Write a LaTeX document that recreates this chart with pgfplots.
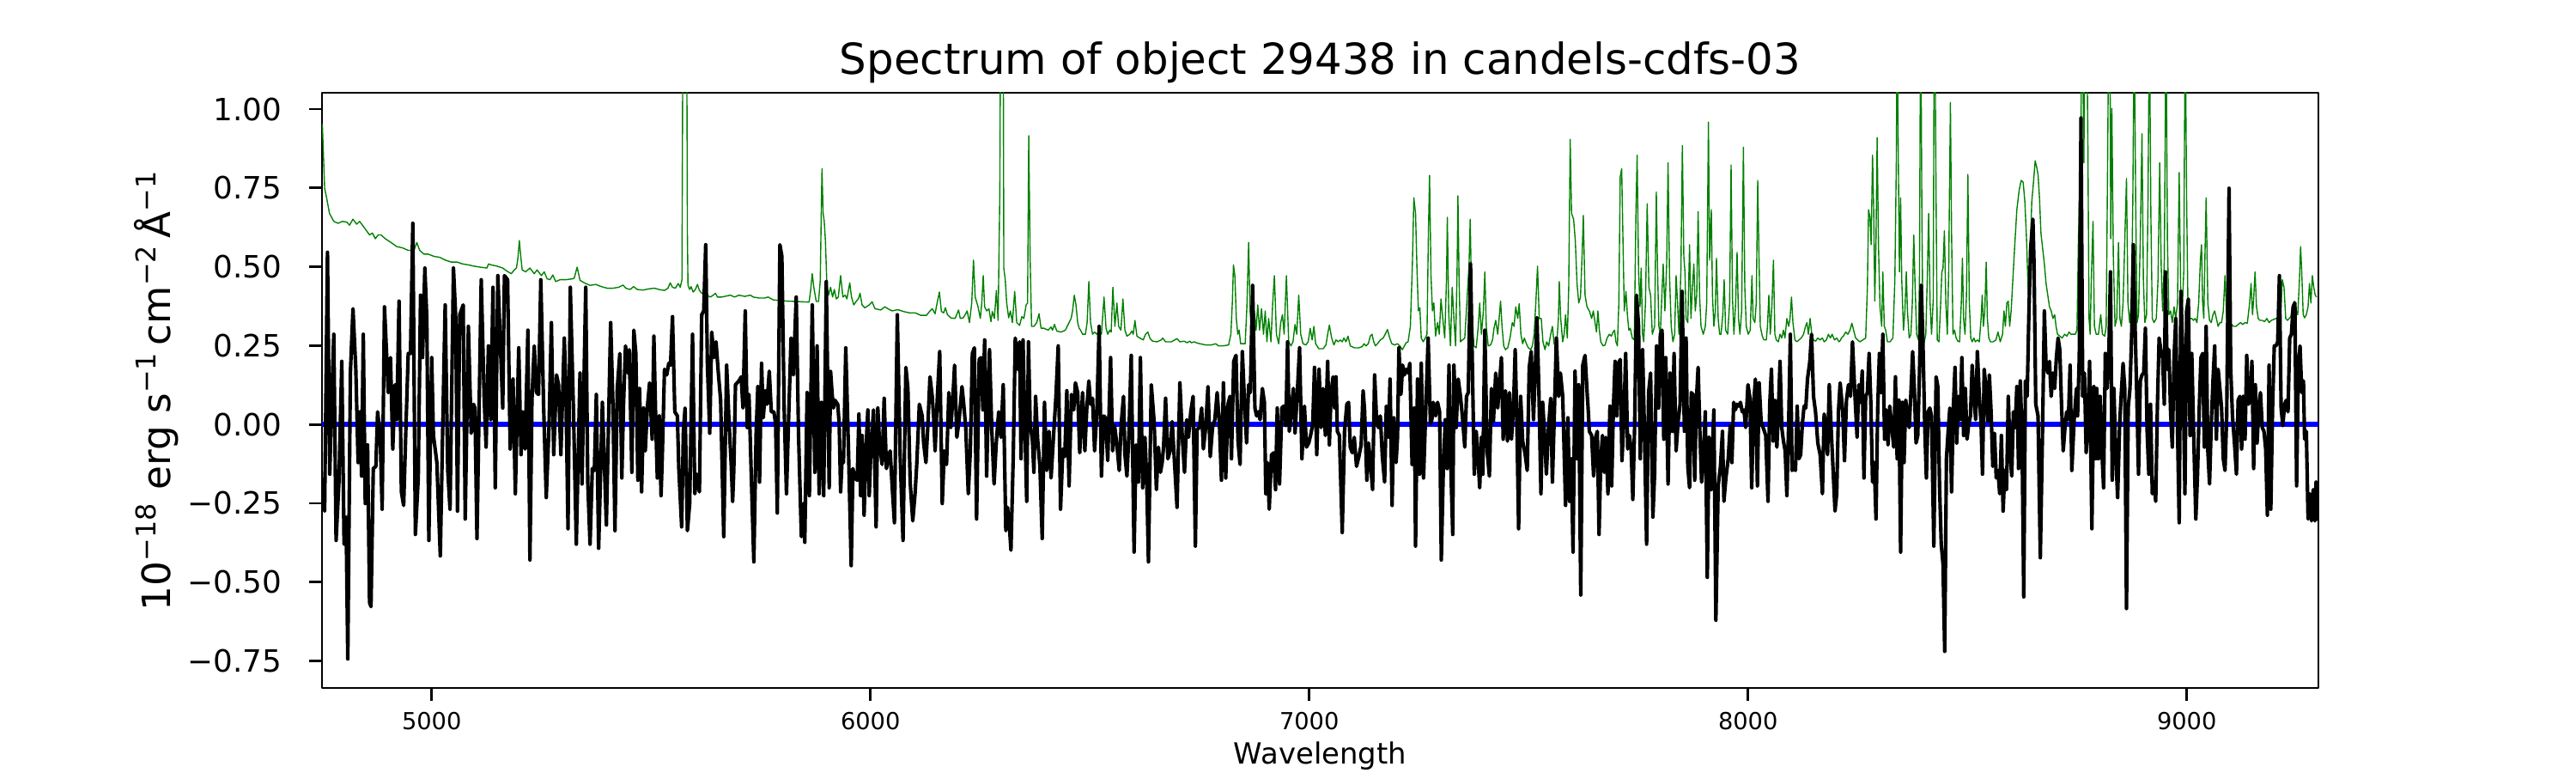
\documentclass[border=0pt]{standalone}
\usepackage{fontspec}
\setmainfont{DejaVu Sans}
\usepackage{pgfplots}
\usepackage{pgfplotstable}
\pgfplotsset{compat=1.18}
\definecolor{mplgreen}{rgb}{0,0.5,0}

\pgfplotstableread[row sep=\\]{x y\\
4750.8 -0.170\\ 4756.0 -0.275\\ 4762.5 0.546\\ 4767.7 -0.158\\ 4771.6 0.052\\ 4776.9 0.286\\ 4782.1 -0.368\\ 4788.6 -0.183\\
4795.1 0.200\\ 4800.3 -0.380\\ 4804.9 -0.294\\ 4808.8 -0.744\\ 4814.7 0.163\\ 4820.6 0.367\\ 4827.1 0.175\\ 4832.3 -0.121\\
4836.9 0.040\\ 4840.2 -0.164\\ 4844.1 0.286\\ 4848.6 -0.251\\ 4853.9 -0.065\\ 4858.4 -0.565\\ 4861.7 -0.578\\ 4866.9 -0.140\\
4872.8 -0.133\\ 4876.7 0.040\\ 4882.6 -0.035\\ 4887.1 -0.269\\ 4892.4 0.373\\ 4897.6 0.212\\ 4900.9 0.101\\ 4906.1 0.212\\
4911.3 -0.078\\ 4916.5 0.126\\ 4920.4 0.015\\ 4925.6 0.391\\ 4930.9 -0.214\\ 4936.1 -0.257\\ 4941.3 -0.010\\ 4946.5 0.225\\
4951.7 0.225\\ 4957.0 0.638\\ 4962.8 -0.349\\ 4969.4 -0.170\\ 4974.6 0.410\\ 4979.2 0.212\\ 4984.4 0.496\\ 4988.9 0.336\\
4993.5 -0.368\\ 5000.0 0.212\\ 5004.0 -0.035\\ 5011.8 -0.121\\ 5019.6 -0.417\\ 5024.8 -0.035\\ 5030.7 0.379\\ 5036.6 -0.146\\
5041.8 -0.269\\ 5049.6 0.496\\ 5054.9 0.336\\ 5058.8 -0.275\\ 5064.0 0.348\\ 5071.8 0.379\\ 5076.4 -0.300\\ 5083.6 0.311\\
5090.1 -0.028\\ 5095.3 0.064\\ 5098.6 0.052\\ 5103.2 -0.362\\ 5112.9 0.459\\ 5119.5 0.089\\ 5124.0 -0.072\\ 5129.3 0.249\\
5134.5 0.015\\ 5139.7 0.435\\ 5144.9 -0.201\\ 5150.8 0.472\\ 5156.7 0.249\\ 5161.9 0.052\\ 5165.8 0.472\\ 5173.0 0.459\\
5178.9 -0.078\\ 5185.4 0.144\\ 5190.6 -0.220\\ 5198.4 0.243\\ 5203.6 -0.096\\ 5207.6 0.040\\ 5212.8 -0.078\\ 5219.3 0.299\\
5223.9 -0.430\\ 5228.5 0.077\\ 5233.7 0.249\\ 5238.9 0.101\\ 5243.5 0.095\\ 5248.7 0.459\\ 5255.2 0.052\\ 5261.1 -0.232\\
5267.6 0.002\\ 5272.8 0.323\\ 5278.1 -0.096\\ 5284.6 0.157\\ 5289.1 0.126\\ 5294.4 -0.096\\ 5302.2 0.274\\ 5305.5 0.138\\
5310.7 -0.331\\ 5315.9 0.435\\
5323.0 0.052\\ 5329.6 -0.380\\ 5338.0 0.163\\ 5342.6 -0.189\\ 5351.1 0.435\\ 5355.7 -0.183\\ 5360.9 -0.380\\ 5366.1 -0.140\\
5370.7 -0.146\\ 5375.2 0.095\\ 5380.5 -0.393\\ 5389.0 0.070\\ 5398.1 -0.319\\ 5407.9 0.323\\ 5413.1 0.064\\ 5417.7 -0.337\\
5422.9 0.114\\ 5428.8 0.225\\ 5433.3 -0.170\\ 5437.2 0.064\\ 5441.8 0.249\\ 5447.0 0.163\\ 5450.3 0.237\\ 5456.2 -0.152\\
5460.7 0.299\\ 5465.3 0.225\\ 5469.9 -0.177\\ 5473.8 0.114\\ 5478.4 -0.214\\ 5482.9 0.052\\ 5486.8 -0.084\\ 5491.4 0.052\\
5496.6 0.132\\ 5502.5 -0.047\\ 5506.4 0.280\\ 5511.0 -0.010\\ 5514.2 -0.170\\ 5518.8 0.027\\ 5522.7 -0.226\\ 5525.3 -0.115\\
5530.6 0.175\\ 5535.8 0.157\\ 5540.3 0.194\\ 5544.3 0.188\\ 5548.8 0.342\\ 5554.1 0.040\\ 5559.9 0.027\\ 5563.2 -0.140\\
5569.7 -0.325\\ 5573.6 -0.022\\ 5577.5 0.052\\ 5582.8 -0.337\\ 5588.0 -0.251\\ 5594.5 0.286\\ 5599.7 -0.220\\ 5604.3 -0.158\\
5610.2 -0.214\\ 5615.4 0.348\\ 5620.0 0.360\\ 5624.5 0.570\\ 5628.4 0.188\\ 5633.7 -0.028\\ 5638.2 0.293\\ 5643.5 0.212\\
5648.0 0.262\\ 5653.3 0.163\\ 5658.5 0.077\\ 5665.6 -0.356\\ 5672.2 0.188\\ 5677.4 0.015\\ 5682.6 -0.127\\ 5685.9 -0.244\\
5688.5 -0.146\\ 5692.4 0.126\\ 5700.2 0.138\\ 5705.4 0.151\\ 5709.4 0.052\\ 5714.6 0.360\\ 5719.2 -0.010\\ 5723.1 0.095\\
5728.3 -0.158\\ 5734.2 -0.436\\ 5739.4 -0.028\\ 5743.3 0.120\\ 5747.2 -0.183\\ 5751.8 0.194\\ 5755.7 0.021\\ 5760.3 0.107\\
5764.2 0.064\\ 5769.4 0.169\\ 5774.0 0.040\\ 5779.9 0.040\\ 5783.8 0.002\\ 5787.7 -0.281\\ 5793.6 0.570\\ 5798.1 0.533\\
5803.3 0.052\\ 5808.6 -0.220\\ 5812.5 -0.028\\ 5819.0 0.274\\ 5824.2 0.157\\ 5830.8 0.404\\ 5836.0 -0.028\\ 5842.5 -0.356\\
5847.1 -0.251\\ 5850.3 -0.374\\ 5855.6 0.101\\ 5860.8 -0.226\\ 5867.3 0.379\\ 5873.2 -0.152\\ 5878.4 0.249\\ 5883.0 -0.220\\
5888.2 0.070\\ 5893.4 -0.226\\
5899.3 0.453\\ 5905.9 -0.201\\ 5909.1 0.169\\ 5912.4 0.101\\ 5915.6 0.052\\ 5918.9 0.077\\ 5922.2 0.070\\ 5925.4 0.064\\
5928.7 0.002\\ 5932.0 -0.214\\ 5935.2 -0.115\\ 5938.5 -0.121\\ 5943.7 0.243\\ 5950.2 -0.096\\ 5956.1 -0.448\\ 5960.0 -0.140\\
5964.6 -0.170\\ 5969.8 -0.177\\ 5973.7 0.033\\ 5977.6 -0.226\\ 5980.9 -0.035\\ 5985.5 -0.288\\ 5989.4 -0.090\\ 5994.0 0.046\\
5997.2 -0.226\\ 6001.1 -0.078\\ 6007.0 0.046\\ 6012.9 -0.325\\ 6016.8 0.052\\ 6020.7 -0.059\\ 6026.6 -0.127\\ 6031.2 0.083\\
6036.4 -0.140\\ 6041.6 -0.102\\ 6044.9 -0.084\\ 6049.4 -0.195\\ 6054.6 -0.312\\ 6061.2 0.348\\ 6067.7 -0.102\\ 6074.2 -0.368\\
6080.7 0.181\\ 6085.3 0.114\\ 6090.5 -0.183\\ 6096.4 -0.306\\ 6101.6 -0.220\\ 6105.5 -0.127\\ 6111.4 0.064\\ 6117.9 0.027\\
6121.2 -0.059\\ 6126.4 -0.121\\ 6131.0 0.002\\ 6135.6 0.151\\ 6140.8 0.089\\ 6144.1 0.021\\ 6147.3 -0.084\\ 6152.5 0.089\\
6157.8 0.231\\ 6163.6 -0.251\\ 6168.2 -0.084\\ 6173.4 -0.127\\ 6178.6 0.101\\ 6183.2 -0.010\\ 6187.8 0.083\\ 6191.7 0.188\\
6196.9 -0.041\\ 6202.1 0.015\\ 6208.6 0.120\\ 6212.6 0.064\\ 6217.1 -0.010\\ 6223.0 -0.220\\ 6227.6 -0.084\\ 6232.2 0.225\\
6236.7 0.243\\ 6241.9 -0.300\\ 6247.8 0.206\\ 6251.7 0.212\\ 6256.3 0.046\\ 6260.2 0.268\\ 6264.8 -0.164\\ 6271.3 0.237\\
6276.5 -0.016\\ 6281.7 -0.189\\ 6287.0 -0.053\\ 6292.2 0.040\\ 6297.4 -0.041\\ 6302.6 0.126\\ 6308.5 -0.337\\ 6312.4 -0.263\\
6317.0 -0.331\\ 6320.2 -0.399\\ 6325.5 -0.096\\ 6330.0 0.274\\ 6335.3 0.175\\ 6339.8 0.262\\ 6343.1 -0.109\\ 6347.7 0.268\\
6351.6 0.015\\ 6356.1 -0.244\\ 6360.1 0.262\\ 6364.0 0.002\\ 6369.2 -0.053\\ 6372.5 -0.152\\ 6376.4 0.089\\ 6381.0 -0.047\\
6386.2 -0.133\\ 6391.4 -0.362\\ 6396.6 0.070\\ 6401.8 -0.146\\ 6407.0 -0.022\\ 6411.6 -0.170\\ 6416.8 -0.047\\ 6422.7 0.089\\
6427.9 0.249\\ 6433.2 -0.269\\ 6438.4 -0.078\\ 6442.9 -0.102\\ 6447.5 0.107\\ 6452.7 -0.195\\ 6458.0 0.095\\ 6463.2 0.046\\
6467.1 0.132\\ 6472.3 0.101\\ 6476.9 -0.090\\
6483.4 0.101\\ 6488.6 -0.084\\ 6493.1 0.052\\ 6497.7 0.138\\ 6501.6 0.064\\ 6506.2 0.083\\ 6510.8 -0.084\\ 6516.0 0.040\\
6521.2 0.311\\ 6526.4 -0.164\\ 6531.6 0.027\\ 6535.6 0.021\\ 6540.8 -0.115\\ 6547.3 0.212\\ 6551.9 -0.084\\ 6556.4 -0.004\\
6561.7 -0.065\\ 6566.9 -0.146\\ 6571.5 0.002\\ 6576.7 0.089\\ 6580.0 -0.096\\ 6584.5 -0.164\\ 6589.1 -0.028\\ 6594.3 0.219\\
6600.8 -0.405\\ 6605.4 -0.065\\ 6610.6 -0.183\\ 6615.2 0.212\\ 6620.4 -0.201\\ 6625.6 -0.041\\ 6629.5 -0.170\\ 6633.5 -0.436\\
6640.0 0.126\\ 6646.5 0.009\\ 6651.7 -0.207\\ 6656.3 -0.072\\ 6660.9 -0.152\\ 6664.8 -0.121\\ 6668.0 -0.072\\ 6672.6 0.083\\
6677.8 -0.109\\ 6683.0 -0.084\\ 6687.6 0.009\\ 6692.2 -0.102\\ 6698.7 -0.263\\ 6705.2 0.132\\ 6710.5 -0.035\\ 6715.7 -0.152\\
6720.9 0.015\\ 6724.8 -0.041\\ 6730.0 0.040\\ 6735.3 0.089\\ 6740.5 -0.386\\ 6744.4 -0.016\\ 6749.6 -0.010\\ 6754.8 0.052\\
6758.7 -0.078\\ 6764.0 -0.010\\ 6769.2 0.120\\ 6774.4 -0.102\\ 6779.6 -0.010\\ 6784.9 0.015\\ 6790.1 0.101\\ 6795.3 0.002\\
6799.9 -0.177\\ 6804.4 0.132\\ 6809.7 -0.170\\ 6814.9 0.064\\ 6819.4 0.089\\ 6822.7 -0.109\\ 6827.9 0.200\\ 6833.1 0.219\\
6837.7 -0.053\\ 6842.3 -0.127\\ 6847.5 0.231\\ 6852.7 0.064\\ 6857.3 -0.059\\ 6861.9 0.126\\ 6865.8 0.101\\ 6871.0 0.441\\
6876.2 0.052\\ 6880.1 0.027\\ 6884.0 0.040\\ 6888.0 0.015\\ 6893.2 0.114\\ 6897.8 0.070\\ 6901.0 -0.220\\ 6904.9 -0.121\\
6908.8 -0.269\\ 6914.1 -0.096\\ 6919.3 -0.090\\ 6923.2 -0.207\\ 6927.1 0.052\\ 6932.3 -0.189\\ 6937.6 0.052\\ 6941.5 0.058\\
6946.7 -0.004\\ 6950.6 0.262\\ 6954.5 -0.022\\ 6959.8 0.052\\ 6963.7 0.114\\ 6967.6 -0.028\\ 6972.8 0.101\\ 6978.0 0.243\\
6983.3 -0.109\\ 6989.1 0.058\\ 6993.7 -0.072\\ 6998.9 -0.059\\ 7004.1 -0.028\\ 7008.0 0.002\\ 7012.0 0.181\\ 7017.2 -0.096\\
7022.4 0.175\\ 7027.0 -0.010\\ 7031.5 0.114\\ 7036.8 -0.035\\ 7042.0 0.200\\ 7045.9 -0.065\\ 7049.8 0.101\\ 7054.4 0.151\\
7057.6 0.052\\ 7060.9 0.151\\ 7064.1 -0.022\\ 7068.7 -0.035\\ 7075.2 -0.343\\ 7080.4 -0.022\\ 7085.7 0.064\\ 7089.6 0.070\\
7093.5 -0.072\\ 7098.0 -0.090\\ 7102.6 -0.041\\ 7107.8 -0.133\\ 7113.1 -0.102\\ 7118.3 -0.065\\ 7122.8 0.107\\ 7126.1 0.046\\
7131.3 -0.177\\ 7135.2 -0.059\\ 7139.8 -0.127\\ 7144.4 -0.207\\ 7149.0 0.157\\ 7153.5 0.015\\ 7157.4 -0.010\\ 7162.0 0.027\\
7166.6 -0.102\\ 7171.8 -0.183\\ 7175.7 0.058\\ 7180.3 -0.041\\ 7184.2 0.144\\ 7188.8 -0.257\\ 7192.7 0.021\\ 7197.9 -0.121\\
7201.2 -0.041\\ 7204.4 0.243\\ 7209.0 0.095\\ 7212.9 0.188\\ 7216.8 0.157\\ 7220.7 0.175\\ 7225.3 0.163\\ 7229.2 0.194\\
7234.4 -0.127\\ 7239.7 0.052\\ 7242.3 -0.386\\ 7246.8 0.144\\ 7251.4 -0.158\\ 7255.3 0.194\\ 7260.5 -0.170\\ 7265.1 0.027\\
7271.0 0.274\\ 7276.2 0.002\\ 7279.5 0.015\\ 7282.7 0.070\\ 7287.9 0.027\\ 7292.5 0.070\\ 7297.1 0.040\\ 7301.0 -0.430\\
7305.6 -0.140\\ 7310.1 0.015\\ 7314.1 -0.140\\ 7318.6 0.188\\ 7323.2 -0.158\\ 7327.1 -0.349\\ 7329.7 0.188\\ 7334.9 -0.010\\
7339.5 0.144\\ 7344.7 0.089\\ 7349.3 0.021\\ 7354.5 -0.072\\ 7358.4 0.089\\ 7362.4 0.101\\ 7367.6 0.509\\ 7371.5 0.212\\
7376.1 -0.158\\ 7380.6 -0.022\\ 7384.5 -0.102\\ 7388.5 -0.201\\ 7392.4 -0.041\\ 7395.6 -0.158\\ 7400.2 0.299\\ 7405.4 -0.084\\
7410.6 -0.164\\ 7415.2 0.114\\ 7419.8 0.009\\ 7425.0 0.163\\ 7429.6 0.052\\ 7434.1 0.138\\ 7438.0 0.212\\ 7442.0 -0.047\\
7447.2 0.107\\ 7451.8 -0.053\\ 7456.3 0.101\\ 7460.9 -0.047\\ 7465.5 0.052\\ 7469.4 0.237\\ 7473.3 0.002\\ 7477.2 -0.331\\
7481.8 0.089\\ 7486.4 -0.053\\ 7491.6 -0.090\\ 7496.8 -0.146\\ 7501.4 0.181\\ 7505.9 0.231\\ 7511.1 0.015\\ 7515.1 0.169\\
7519.0 0.338\\ 7523.5 0.101\\ 7528.1 -0.220\\ 7532.0 0.070\\ 7535.9 -0.022\\ 7540.5 -0.158\\ 7545.1 -0.016\\ 7550.3 0.083\\
7554.2 -0.183\\ 7558.1 0.009\\ 7563.3 0.274\\ 7568.6 0.089\\ 7572.5 0.163\\ 7577.7 0.089\\ 7584.2 -0.257\\ 7589.5 0.021\\
7593.4 -0.244\\ 7597.3 -0.109\\ 7601.2 -0.405\\ 7605.8 0.169\\ 7610.3 -0.109\\ 7614.2 0.126\\ 7618.8 -0.541\\ 7623.4 0.188\\
7628.6 0.219\\ 7633.8 0.089\\
7635.1 0.064\\ 7638.4 -0.022\\ 7643.6 -0.035\\ 7648.1 -0.164\\ 7652.7 -0.041\\ 7656.6 -0.022\\ 7660.5 -0.349\\ 7664.5 -0.109\\
7668.4 -0.035\\ 7672.3 -0.152\\ 7676.2 -0.041\\ 7680.8 -0.220\\ 7685.3 0.058\\ 7689.3 -0.195\\ 7693.2 0.052\\ 7697.1 0.200\\
7701.0 0.027\\ 7704.9 0.194\\ 7708.8 0.206\\ 7712.7 -0.115\\ 7716.7 0.002\\ 7721.2 0.225\\ 7725.8 -0.078\\ 7729.7 -0.035\\
7733.6 -0.078\\ 7737.5 -0.238\\ 7741.5 -0.010\\ 7746.0 0.410\\ 7750.6 0.311\\ 7754.5 -0.109\\ 7759.7 0.237\\ 7763.7 -0.004\\
7768.9 -0.380\\ 7773.4 0.101\\ 7778.0 0.163\\ 7783.2 -0.294\\ 7787.1 -0.158\\ 7791.7 0.249\\ 7796.3 0.052\\ 7800.2 0.286\\
7804.1 0.299\\ 7808.0 -0.047\\ 7812.6 0.212\\ 7817.8 -0.189\\ 7822.4 0.163\\ 7827.6 -0.022\\ 7831.5 0.225\\ 7836.1 -0.084\\
7840.7 0.009\\ 7845.2 0.064\\ 7849.8 0.422\\ 7855.0 -0.022\\ 7858.9 0.274\\ 7862.8 -0.133\\ 7866.8 -0.201\\ 7870.7 0.101\\
7874.6 0.095\\ 7878.5 -0.177\\ 7882.4 0.077\\ 7886.3 0.181\\ 7890.3 -0.022\\ 7894.2 -0.183\\ 7898.1 -0.109\\ 7902.7 0.040\\
7907.2 -0.485\\ 7911.1 -0.041\\ 7915.7 -0.207\\ 7922.2 0.046\\ 7926.8 -0.621\\ 7932.0 -0.195\\ 7937.2 -0.133\\ 7941.8 -0.022\\
7945.1 -0.244\\ 7949.6 -0.170\\ 7954.9 -0.109\\ 7959.4 -0.004\\ 7963.3 -0.121\\ 7967.3 0.070\\ 7971.2 0.046\\ 7975.1 0.064\\
7979.0 0.058\\ 7982.9 0.070\\ 7986.8 0.040\\ 7990.8 0.046\\ 7994.7 -0.010\\ 7999.9 0.126\\ 8004.5 0.083\\ 8008.4 -0.201\\
8012.9 0.064\\ 8016.9 0.144\\ 8021.4 -0.195\\ 8025.3 0.132\\ 8029.9 0.009\\ 8034.5 -0.010\\ 8040.4 -0.035\\ 8045.6 -0.244\\
8049.5 0.064\\ 8053.4 0.175\\ 8057.3 -0.053\\ 8061.2 0.077\\ 8065.8 -0.072\\ 8069.1 0.040\\ 8073.0 0.200\\ 8076.9 -0.010\\
8080.8 -0.053\\ 8084.7 -0.084\\ 8088.6 -0.226\\ 8092.6 0.002\\ 8096.5 0.286\\ 8100.4 -0.146\\ 8105.0 -0.140\\ 8108.2 -0.146\\
8112.1 0.058\\ 8116.1 -0.109\\ 8120.0 -0.096\\ 8123.9 0.002\\ 8127.8 0.058\\ 8131.7 0.052\\ 8135.6 0.144\\ 8140.9 0.200\\
8144.8 0.286\\ 8149.3 0.089\\ 8153.9 0.040\\ 8159.1 -0.059\\ 8164.4 -0.096\\ 8169.6 -0.220\\ 8173.5 0.033\\ 8177.4 -0.004\\
8181.3 -0.096\\ 8185.2 0.126\\ 8189.8 -0.022\\ 8194.4 -0.158\\ 8198.3 -0.275\\ 8202.2 -0.220\\ 8206.1 0.040\\ 8210.0 0.132\\
8216.0 0.040\\ 8219.9 -0.115\\ 8224.4 0.077\\ 8229.0 0.126\\ 8233.6 0.089\\ 8238.1 0.262\\ 8243.4 0.101\\ 8248.6 -0.041\\
8252.5 0.126\\ 8256.4 0.070\\ 8260.3 0.169\\ 8264.2 -0.170\\ 8268.2 0.089\\ 8272.1 0.101\\ 8276.0 0.225\\ 8279.9 0.070\\
8283.8 -0.183\\ 8287.7 -0.121\\ 8291.7 -0.300\\ 8295.6 0.052\\ 8299.5 0.225\\ 8303.4 0.101\\ 8307.3 0.286\\ 8311.2 -0.047\\
8315.1 0.046\\ 8319.1 -0.065\\ 8323.0 0.058\\ 8328.2 -0.016\\ 8332.1 -0.072\\ 8336.0 0.151\\ 8339.9 -0.109\\ 8343.9 0.077\\
8347.8 -0.405\\ 8351.7 0.070\\ 8355.6 -0.121\\ 8359.5 0.077\\ 8363.4 0.027\\ 8367.4 -0.010\\ 8371.3 0.101\\ 8375.2 0.231\\
8379.1 0.114\\ 8383.0 -0.059\\ 8386.9 -0.035\\ 8390.8 0.163\\ 8394.8 0.441\\ 8398.7 0.262\\ 8402.6 0.002\\ 8406.5 -0.170\\
8410.4 0.040\\ 8414.3 0.052\\ 8418.3 0.027\\ 8423.5 -0.386\\ 8428.7 0.151\\ 8432.6 0.120\\ 8436.5 -0.195\\ 8440.4 -0.380\\
8444.4 -0.442\\ 8448.3 -0.720\\ 8452.2 -0.109\\ 8456.1 -0.022\\ 8460.0 0.052\\ 8463.9 -0.214\\ 8467.9 0.052\\ 8471.8 0.181\\
8475.7 -0.059\\ 8479.6 0.089\\ 8483.5 0.015\\ 8487.4 0.212\\ 8491.3 -0.035\\ 8495.3 0.114\\ 8499.2 -0.047\\ 8503.1 0.002\\
8507.0 0.027\\ 8510.9 0.188\\ 8514.8 0.089\\ 8518.8 0.015\\ 8522.7 0.231\\ 8527.2 0.089\\ 8531.2 0.002\\ 8534.4 -0.158\\
8538.3 0.175\\ 8542.2 0.114\\ 8546.2 0.009\\ 8550.1 0.157\\ 8554.0 0.040\\ 8557.9 -0.133\\ 8561.8 -0.028\\ 8565.7 -0.170\\
8569.7 -0.146\\ 8573.6 -0.220\\ 8577.5 -0.035\\ 8581.4 -0.275\\ 8585.3 -0.146\\ 8589.2 -0.207\\ 8593.2 0.089\\ 8597.1 -0.084\\
8601.0 -0.164\\ 8604.9 0.040\\ 8608.8 -0.010\\ 8612.7 0.120\\ 8616.6 -0.140\\ 8620.6 0.138\\ 8624.5 -0.035\\ 8628.4 -0.547\\
8632.3 0.138\\ 8636.2 0.089\\ 8640.1 0.348\\ 8644.1 0.558\\ 8649.3 0.651\\ 8651.9 0.509\\ 8655.8 0.064\\ 8661.0 0.027\\
8666.2 -0.423\\ 8671.5 0.002\\ 8675.4 0.360\\ 8679.3 0.188\\ 8683.2 0.163\\ 8687.1 0.200\\ 8691.0 0.089\\ 8694.9 0.163\\
8698.9 0.114\\ 8702.8 0.212\\ 8706.7 0.274\\ 8710.6 0.237\\ 8714.5 0.064\\ 8718.4 -0.084\\ 8722.4 -0.010\\ 8726.3 0.040\\
8730.2 0.015\\ 8734.1 0.188\\ 8738.0 -0.146\\ 8743.3 0.015\\ 8748.5 0.114\\ 8751.1 0.027\\ 8755.0 0.212\\ 8758.9 0.972\\
8762.8 0.089\\ 8766.8 0.163\\ 8770.7 -0.090\\ 8774.6 -0.010\\ 8778.5 0.200\\ 8783.7 -0.331\\
8788.2 0.120\\ 8792.1 -0.109\\ 8794.8 0.114\\ 8798.7 -0.109\\ 8802.6 0.089\\ 8806.5 -0.084\\ 8810.4 -0.201\\ 8814.3 0.225\\
8818.3 0.114\\ 8822.2 0.212\\ 8826.1 0.484\\ 8830.0 -0.177\\ 8833.9 0.114\\ 8837.8 -0.084\\ 8842.4 -0.232\\ 8847.0 0.002\\
8850.9 0.101\\ 8854.8 0.194\\ 8858.7 0.114\\ 8862.6 -0.584\\ 8866.5 0.052\\ 8870.5 0.114\\ 8874.4 0.286\\ 8878.3 0.570\\
8882.2 0.311\\ 8886.1 0.089\\ 8890.0 -0.158\\ 8894.0 0.138\\ 8897.9 0.157\\ 8901.8 0.163\\ 8905.7 0.305\\ 8909.6 -0.022\\
8913.5 -0.158\\ 8917.4 0.064\\ 8921.4 -0.220\\ 8925.3 -0.183\\ 8929.2 -0.244\\ 8933.1 0.064\\ 8937.0 0.274\\ 8940.9 0.237\\
8944.9 0.212\\ 8948.8 0.064\\ 8951.4 0.484\\ 8955.3 0.175\\ 8959.2 0.237\\ 8963.1 0.040\\ 8967.0 -0.072\\ 8971.0 0.212\\
8974.9 0.336\\ 8978.8 -0.010\\ 8982.7 -0.312\\ 8986.6 0.422\\ 8990.5 0.237\\ 8995.8 -0.220\\ 8999.7 0.360\\ 9003.6 0.398\\
9007.5 -0.035\\ 9011.4 0.225\\ 9015.3 -0.010\\ 9020.6 -0.300\\ 9024.5 -0.158\\ 9028.4 0.052\\ 9032.3 0.212\\ 9036.2 0.225\\
9040.1 -0.072\\ 9044.1 0.311\\ 9048.0 -0.084\\ 9051.9 -0.189\\ 9055.8 0.002\\ 9059.7 0.138\\ 9063.6 0.249\\ 9067.5 -0.047\\
9071.5 0.175\\ 9075.4 0.114\\ 9079.3 0.052\\ 9083.2 -0.109\\ 9087.1 -0.146\\ 9091.0 0.027\\ 9096.3 0.749\\ 9100.2 0.175\\
9104.1 0.027\\ 9108.7 -0.059\\ 9113.2 -0.158\\ 9117.1 0.077\\ 9121.1 0.089\\ 9125.0 -0.078\\ 9128.9 0.089\\ 9132.8 -0.047\\
9136.7 0.219\\ 9140.6 0.064\\ 9144.6 0.077\\ 9148.5 0.200\\ 9152.4 -0.140\\ 9156.3 0.126\\ 9160.2 -0.059\\ 9164.1 0.052\\
9168.0 0.101\\ 9172.0 -0.010\\ 9175.9 -0.022\\ 9179.8 -0.078\\ 9183.7 -0.288\\ 9187.6 0.188\\ 9191.5 -0.269\\ 9195.5 0.052\\
9199.4 0.249\\ 9203.3 0.249\\ 9207.2 0.262\\ 9211.1 0.472\\ 9215.0 0.052\\ 9218.9 -0.004\\ 9222.9 0.064\\ 9226.8 0.077\\
9230.7 0.040\\ 9234.6 0.274\\ 9238.5 0.286\\ 9242.4 0.373\\ 9246.4 0.385\\ 9250.3 -0.195\\ 9254.2 0.175\\ 9258.1 0.249\\
9262.0 0.101\\ 9265.9 0.138\\ 9268.5 -0.047\\ 9272.5 -0.022\\ 9276.4 -0.300\\ 9280.3 -0.220\\ 9284.2 -0.306\\ 9288.1 -0.207\\
9292.0 -0.306\\ 9294.6 -0.183\\ 9297.9 -0.306\\
}\fluxdata

\pgfplotstableread[row sep=\\]{x y\\
4750.8 0.953\\ 4756.0 0.749\\ 4760.5 0.719\\ 4767.1 0.669\\ 4776.9 0.644\\ 4786.6 0.638\\ 4796.4 0.644\\ 4806.2 0.642\\
4812.7 0.632\\ 4820.6 0.651\\ 4829.1 0.635\\ 4835.6 0.644\\ 4845.4 0.626\\ 4858.4 0.601\\ 4865.0 0.607\\ 4871.5 0.589\\
4878.0 0.601\\ 4884.5 0.601\\ 4894.3 0.589\\ 4907.4 0.577\\ 4920.4 0.564\\ 4933.5 0.560\\ 4946.5 0.552\\ 4959.6 0.552\\
4966.1 0.577\\ 4972.6 0.552\\ 4982.4 0.540\\ 4992.2 0.540\\ 5005.3 0.533\\ 5018.3 0.530\\ 5031.4 0.521\\ 5044.4 0.515\\
5057.5 0.515\\ 5070.5 0.509\\ 5083.6 0.506\\ 5096.6 0.502\\ 5109.7 0.499\\ 5126.0 0.496\\ 5129.3 0.509\\ 5135.8 0.506\\
5148.8 0.502\\ 5161.9 0.496\\ 5171.7 0.486\\ 5181.5 0.478\\ 5188.0 0.490\\ 5193.2 0.496\\ 5196.5 0.527\\ 5199.7 0.583\\
5203.0 0.533\\ 5206.3 0.490\\ 5214.1 0.484\\ 5223.9 0.496\\ 5233.7 0.478\\ 5240.2 0.490\\ 5250.0 0.472\\ 5256.5 0.484\\
5263.0 0.462\\ 5269.6 0.459\\ 5276.1 0.474\\ 5282.6 0.453\\ 5292.4 0.459\\ 5305.5 0.459\\ 5321.8 0.462\\
5325.0 0.465\\ 5331.5 0.499\\ 5338.0 0.457\\ 5347.8 0.449\\ 5360.9 0.441\\ 5373.9 0.444\\ 5387.0 0.437\\ 5400.0 0.432\\
5413.1 0.432\\ 5426.1 0.435\\ 5435.9 0.442\\ 5442.5 0.432\\ 5452.2 0.428\\ 5460.1 0.437\\ 5468.6 0.428\\ 5481.6 0.426\\
5494.7 0.430\\ 5507.7 0.432\\ 5520.8 0.427\\ 5530.6 0.425\\ 5538.4 0.432\\ 5543.6 0.449\\ 5548.8 0.435\\ 5555.4 0.432\\
5561.9 0.447\\ 5566.5 0.435\\ 5570.4 0.459\\ 5573.0 1.5\\ 5576.2 2.5\\ 5579.5 2.0\\ 5582.8 0.6\\ 5584.1 0.441\\
5588.0 0.428\\ 5591.3 0.437\\ 5595.8 0.420\\ 5601.0 0.428\\ 5605.6 0.444\\ 5610.2 0.425\\ 5615.4 0.416\\ 5625.2 0.411\\
5635.0 0.404\\ 5641.5 0.410\\ 5646.7 0.416\\ 5651.3 0.404\\ 5661.1 0.404\\ 5670.9 0.407\\ 5680.7 0.410\\ 5690.4 0.404\\
5700.2 0.410\\ 5713.3 0.406\\ 5726.3 0.410\\ 5732.9 0.404\\ 5745.9 0.401\\ 5759.0 0.401\\ 5766.8 0.404\\ 5778.5 0.395\\
5791.6 0.393\\ 5811.2 0.391\\ 5830.8 0.390\\ 5843.8 0.389\\ 5860.1 0.388\\ 5863.4 0.422\\ 5867.3 0.478\\ 5871.2 0.432\\
5876.4 0.390\\ 5881.7 0.390\\ 5885.6 0.457\\ 5888.2 0.704\\ 5889.5 0.811\\ 5892.1 0.669\\ 5894.7 0.644\\ 5897.3 0.583\\
5900.6 0.447\\
5904.5 0.410\\ 5909.1 0.435\\ 5913.7 0.404\\ 5917.6 0.428\\ 5922.2 0.398\\ 5926.7 0.404\\ 5932.0 0.472\\ 5937.2 0.404\\
5942.4 0.410\\ 5946.3 0.398\\ 5952.8 0.449\\ 5956.8 0.404\\ 5962.0 0.379\\ 5967.8 0.391\\ 5972.4 0.398\\ 5976.3 0.416\\
5980.9 0.379\\ 5987.4 0.370\\ 5997.2 0.379\\ 6003.7 0.389\\ 6010.3 0.367\\ 6023.3 0.363\\ 6033.1 0.373\\ 6039.6 0.367\\
6049.4 0.360\\ 6062.5 0.364\\ 6075.5 0.358\\ 6088.6 0.354\\ 6101.6 0.354\\ 6114.7 0.346\\ 6127.7 0.346\\ 6135.6 0.360\\
6140.8 0.367\\ 6147.3 0.351\\ 6151.9 0.385\\ 6157.1 0.420\\ 6161.7 0.358\\ 6166.9 0.354\\ 6170.8 0.370\\ 6175.4 0.348\\
6183.2 0.338\\ 6193.0 0.336\\ 6200.8 0.363\\ 6204.7 0.336\\ 6211.3 0.338\\ 6215.8 0.348\\ 6220.4 0.360\\ 6225.6 0.323\\
6230.8 0.385\\ 6234.8 0.521\\ 6238.7 0.404\\ 6245.2 0.373\\ 6250.4 0.336\\ 6253.7 0.385\\ 6257.0 0.472\\ 6260.2 0.373\\
6264.8 0.360\\ 6270.0 0.367\\ 6274.6 0.326\\ 6277.8 0.358\\ 6282.4 0.336\\ 6287.0 0.425\\ 6290.9 0.330\\ 6294.8 0.731\\
6297.4 1.6\\ 6302.0 1.6\\ 6303.9 0.496\\ 6307.2 0.459\\ 6310.5 0.385\\ 6315.0 0.338\\ 6318.9 0.360\\ 6323.5 0.323\\
6328.7 0.422\\ 6333.3 0.323\\ 6339.8 0.314\\ 6345.0 0.342\\ 6349.6 0.336\\ 6354.8 0.379\\ 6358.1 0.385\\ 6360.7 0.916\\
6364.0 0.521\\ 6367.2 0.311\\ 6372.5 0.311\\ 6379.0 0.323\\ 6384.2 0.351\\ 6388.8 0.305\\ 6395.3 0.305\\ 6405.1 0.299\\
6411.6 0.309\\ 6414.9 0.299\\ 6419.4 0.317\\ 6424.7 0.296\\ 6434.5 0.293\\ 6444.2 0.299\\ 6452.7 0.323\\ 6457.3 0.336\\
6460.6 0.360\\ 6464.5 0.410\\ 6468.4 0.379\\ 6472.3 0.323\\ 6475.6 0.305\\ 6478.8 0.299\\
6483.4 0.286\\ 6489.9 0.286\\ 6493.8 0.323\\ 6497.7 0.453\\ 6501.6 0.323\\ 6506.2 0.286\\ 6510.8 0.293\\ 6516.0 0.286\\
6521.2 0.299\\ 6526.4 0.286\\ 6532.3 0.404\\ 6536.9 0.305\\ 6540.8 0.286\\ 6545.3 0.299\\ 6548.6 0.293\\ 6552.5 0.435\\
6557.1 0.311\\ 6561.7 0.385\\ 6565.6 0.311\\ 6570.8 0.299\\ 6575.4 0.398\\ 6579.9 0.299\\ 6584.5 0.280\\ 6591.0 0.286\\
6595.6 0.296\\ 6598.9 0.286\\ 6602.8 0.330\\ 6607.3 0.280\\ 6613.9 0.274\\ 6621.7 0.268\\ 6626.9 0.286\\ 6632.1 0.293\\
6637.4 0.272\\ 6643.2 0.264\\ 6653.0 0.262\\ 6662.8 0.268\\ 6666.1 0.274\\ 6672.6 0.262\\ 6685.7 0.262\\ 6698.7 0.272\\
6705.2 0.262\\ 6715.0 0.264\\ 6721.5 0.259\\ 6728.1 0.264\\ 6731.3 0.259\\ 6737.9 0.262\\ 6744.4 0.258\\ 6750.9 0.256\\
6764.0 0.252\\ 6777.0 0.252\\ 6786.8 0.256\\ 6793.3 0.249\\ 6803.1 0.249\\ 6816.2 0.252\\ 6821.4 0.286\\ 6824.7 0.385\\
6827.3 0.506\\ 6830.5 0.472\\ 6833.8 0.336\\ 6837.1 0.286\\ 6840.3 0.299\\ 6843.6 0.256\\ 6848.8 0.256\\ 6854.0 0.256\\
6857.9 0.373\\ 6861.9 0.577\\ 6865.1 0.360\\ 6869.7 0.286\\ 6874.9 0.360\\ 6878.8 0.299\\ 6882.7 0.379\\ 6886.7 0.299\\
6891.2 0.367\\ 6895.8 0.286\\ 6899.7 0.360\\ 6903.6 0.262\\ 6907.5 0.336\\ 6912.8 0.262\\ 6916.7 0.385\\ 6920.6 0.472\\
6925.2 0.286\\ 6930.4 0.256\\ 6935.0 0.323\\ 6938.9 0.348\\ 6942.8 0.286\\ 6948.0 0.472\\ 6953.2 0.262\\ 6958.4 0.249\\
6963.0 0.262\\ 6967.6 0.317\\ 6971.5 0.286\\ 6976.1 0.410\\ 6980.6 0.286\\ 6985.8 0.256\\ 6992.4 0.252\\ 6997.6 0.262\\
7002.2 0.305\\ 7006.7 0.268\\ 7010.6 0.311\\ 7014.6 0.256\\ 7021.7 0.240\\ 7031.5 0.240\\ 7038.1 0.252\\ 7042.0 0.286\\
7045.9 0.315\\ 7051.1 0.274\\ 7056.3 0.252\\
7060.9 0.268\\ 7066.1 0.262\\ 7070.6 0.268\\ 7075.2 0.262\\ 7079.1 0.274\\ 7083.7 0.262\\ 7088.3 0.280\\ 7093.5 0.249\\
7103.3 0.243\\ 7113.1 0.243\\ 7120.9 0.247\\ 7124.8 0.256\\ 7129.4 0.249\\ 7134.6 0.256\\ 7139.2 0.280\\ 7143.1 0.286\\
7147.0 0.262\\ 7150.9 0.249\\ 7155.5 0.256\\ 7162.0 0.268\\ 7168.5 0.274\\ 7173.1 0.286\\ 7178.3 0.301\\ 7183.5 0.274\\
7188.1 0.256\\ 7194.6 0.252\\ 7201.2 0.256\\ 7207.7 0.247\\ 7212.3 0.237\\ 7216.2 0.247\\ 7220.7 0.259\\ 7225.3 0.262\\
7230.5 0.311\\ 7235.1 0.509\\ 7238.4 0.719\\ 7242.3 0.669\\ 7245.5 0.496\\ 7248.8 0.360\\ 7252.1 0.370\\ 7255.3 0.274\\
7259.9 0.262\\ 7264.5 0.274\\ 7268.4 0.286\\ 7271.6 0.607\\ 7274.2 0.790\\ 7277.5 0.472\\ 7280.8 0.360\\ 7284.0 0.385\\
7287.9 0.280\\ 7292.5 0.323\\ 7296.4 0.286\\ 7300.3 0.398\\ 7304.3 0.336\\ 7308.8 0.274\\ 7312.8 0.459\\ 7314.7 0.657\\
7318.0 0.348\\ 7321.9 0.249\\ 7325.8 0.435\\ 7329.7 0.336\\ 7333.6 0.249\\ 7336.9 0.484\\ 7338.9 0.725\\ 7341.5 0.459\\
7344.7 0.262\\ 7349.3 0.268\\ 7354.5 0.274\\ 7359.1 0.385\\ 7364.3 0.509\\ 7366.9 0.651\\ 7370.8 0.336\\ 7375.4 0.249\\
7380.6 0.243\\ 7385.2 0.311\\ 7388.5 0.385\\ 7392.4 0.286\\ 7396.9 0.360\\ 7400.2 0.484\\ 7403.5 0.311\\ 7408.0 0.249\\
7413.3 0.252\\ 7417.8 0.268\\ 7421.1 0.305\\ 7425.0 0.330\\ 7429.6 0.286\\ 7432.8 0.336\\ 7436.1 0.391\\ 7439.4 0.311\\
7443.3 0.249\\ 7447.2 0.237\\ 7452.4 0.243\\ 7457.6 0.274\\ 7462.9 0.323\\ 7466.8 0.311\\ 7470.7 0.373\\ 7475.2 0.336\\
7478.5 0.383\\ 7482.4 0.286\\ 7486.4 0.256\\ 7490.3 0.274\\ 7494.8 0.256\\ 7499.4 0.243\\ 7504.6 0.237\\ 7508.5 0.249\\
7512.5 0.286\\ 7516.4 0.385\\ 7520.3 0.502\\ 7524.2 0.336\\ 7528.8 0.336\\ 7532.7 0.262\\ 7537.3 0.237\\ 7541.2 0.262\\
7545.7 0.249\\ 7550.3 0.286\\ 7554.2 0.311\\ 7558.1 0.256\\ 7563.3 0.240\\ 7567.9 0.336\\ 7569.9 0.453\\ 7573.1 0.336\\
7577.7 0.262\\ 7581.0 0.286\\ 7584.2 0.348\\ 7588.2 0.274\\ 7591.4 0.435\\ 7594.7 0.904\\ 7597.9 0.669\\ 7602.5 0.651\\
7606.4 0.583\\ 7610.3 0.447\\ 7614.2 0.385\\ 7618.2 0.404\\ 7622.1 0.546\\ 7624.7 0.663\\
7628.6 0.410\\ 7633.1 0.373\\ 7638.4 0.360\\ 7643.6 0.336\\ 7647.5 0.360\\ 7651.4 0.323\\ 7654.7 0.293\\ 7657.9 0.360\\
7661.2 0.299\\ 7664.5 0.262\\ 7669.7 0.249\\ 7674.2 0.252\\ 7678.8 0.274\\ 7684.0 0.286\\ 7688.6 0.280\\ 7692.5 0.293\\
7695.8 0.299\\ 7699.0 0.262\\ 7702.3 0.249\\ 7705.6 0.385\\ 7708.8 0.786\\ 7712.1 0.811\\ 7715.4 0.558\\ 7718.0 0.360\\
7721.9 0.422\\ 7725.1 0.348\\ 7728.4 0.299\\ 7731.7 0.305\\ 7736.2 0.274\\ 7740.8 0.268\\ 7744.7 0.681\\ 7747.3 0.854\\
7750.6 0.484\\ 7753.9 0.373\\ 7756.5 0.496\\ 7759.7 0.286\\ 7762.3 0.262\\ 7766.3 0.385\\ 7770.2 0.700\\ 7774.1 0.435\\
7778.0 0.410\\ 7781.9 0.286\\ 7787.1 0.311\\ 7791.1 0.737\\ 7793.7 0.496\\ 7796.9 0.311\\ 7800.2 0.286\\ 7803.5 0.404\\
7806.7 0.509\\ 7810.6 0.360\\ 7814.6 0.509\\ 7817.8 0.830\\ 7821.1 0.472\\ 7825.0 0.311\\ 7828.9 0.262\\ 7832.8 0.286\\
7836.1 0.472\\ 7839.4 0.385\\ 7842.6 0.286\\ 7847.2 0.496\\ 7850.4 0.885\\ 7853.7 0.533\\ 7856.3 0.484\\ 7858.9 0.336\\
7862.8 0.323\\ 7866.8 0.570\\ 7870.0 0.336\\ 7873.3 0.435\\ 7876.6 0.509\\ 7879.8 0.360\\ 7883.1 0.410\\ 7886.3 0.675\\
7889.6 0.410\\ 7892.9 0.311\\ 7898.1 0.286\\ 7902.7 0.311\\ 7905.9 0.385\\ 7909.8 0.959\\ 7912.4 0.521\\ 7916.4 0.681\\
7919.0 0.410\\ 7922.2 0.311\\ 7925.5 0.360\\ 7928.1 0.527\\ 7932.0 0.336\\ 7935.3 0.286\\ 7938.5 0.286\\ 7942.5 0.348\\
7945.7 0.459\\ 7949.0 0.299\\ 7953.6 0.286\\ 7958.1 0.385\\ 7961.4 0.823\\ 7964.7 0.398\\ 7967.9 0.286\\ 7971.8 0.385\\
7975.1 0.546\\ 7978.4 0.336\\ 7981.6 0.286\\ 7985.5 0.360\\ 7989.5 0.879\\ 7992.7 0.435\\ 7996.0 0.311\\ 8000.5 0.286\\
8005.1 0.299\\ 8009.0 0.472\\ 8011.6 0.336\\ 8015.6 0.323\\ 8018.8 0.385\\ 8022.1 0.774\\ 8024.7 0.558\\ 8028.0 0.311\\
8032.5 0.280\\ 8036.4 0.268\\ 8041.7 0.268\\ 8044.3 0.311\\ 8047.5 0.410\\ 8050.8 0.286\\ 8054.7 0.385\\ 8058.0 0.521\\
8061.2 0.286\\ 8064.5 0.268\\ 8069.1 0.262\\ 8073.0 0.286\\ 8076.9 0.274\\ 8080.8 0.299\\ 8084.1 0.274\\ 8088.6 0.336\\
8092.6 0.311\\ 8095.8 0.336\\ 8099.1 0.404\\ 8102.4 0.323\\ 8106.9 0.268\\ 8111.5 0.262\\ 8116.1 0.268\\ 8121.3 0.274\\
8126.5 0.286\\ 8131.1 0.311\\ 8134.3 0.323\\ 8137.6 0.286\\ 8141.5 0.336\\ 8145.4 0.286\\ 8149.3 0.268\\ 8153.9 0.264\\
8159.1 0.274\\ 8164.4 0.268\\ 8169.6 0.274\\ 8173.5 0.262\\ 8178.7 0.268\\ 8183.3 0.286\\ 8187.8 0.274\\ 8191.8 0.286\\
8197.0 0.268\\ 8202.2 0.274\\ 8207.4 0.262\\ 8211.3 0.268\\
8212.7 0.274\\ 8217.3 0.280\\ 8222.5 0.293\\ 8227.7 0.286\\ 8232.3 0.299\\ 8236.8 0.321\\ 8240.7 0.299\\ 8245.3 0.274\\
8249.9 0.268\\ 8255.0 0.262\\ 8261.6 0.268\\ 8268.2 0.274\\ 8272.1 0.435\\ 8274.7 0.681\\ 8277.9 0.657\\ 8280.6 0.570\\
8283.8 0.854\\ 8286.4 0.681\\ 8289.0 0.391\\ 8291.7 0.583\\ 8294.3 0.910\\ 8297.5 0.558\\ 8300.8 0.373\\ 8304.7 0.311\\
8307.3 0.484\\ 8310.6 0.311\\ 8313.8 0.299\\ 8317.8 0.262\\ 8323.6 0.262\\ 8330.2 0.274\\ 8334.7 0.459\\ 8338.0 0.830\\
8339.9 1.3\\ 8342.6 0.830\\ 8345.2 0.484\\ 8347.8 0.719\\ 8350.4 0.459\\ 8354.3 0.299\\ 8357.6 0.360\\ 8360.8 0.484\\
8363.4 0.360\\ 8367.4 0.274\\ 8371.3 0.286\\ 8374.5 0.385\\ 8377.8 0.601\\ 8380.4 0.459\\ 8384.3 0.286\\ 8388.2 0.268\\
8390.8 0.459\\ 8393.5 1.4\\ 8396.1 0.706\\ 8398.7 0.286\\ 8401.9 0.262\\ 8405.2 0.286\\ 8408.5 0.459\\ 8411.7 0.669\\
8415.0 0.385\\ 8418.3 0.286\\ 8422.2 0.398\\ 8424.8 1.5\\ 8428.7 0.706\\ 8431.3 0.268\\ 8435.2 0.262\\ 8439.1 0.385\\
8441.8 0.484\\ 8444.4 0.496\\ 8447.6 0.614\\ 8450.9 0.385\\ 8454.2 0.286\\ 8457.4 0.484\\ 8461.3 1.021\\ 8463.9 0.607\\
8467.2 0.286\\ 8470.5 0.299\\ 8474.4 0.274\\ 8478.3 0.264\\ 8482.2 0.262\\ 8486.1 0.385\\ 8488.7 0.527\\ 8491.3 0.336\\
8494.6 0.286\\ 8497.9 0.410\\ 8501.1 0.793\\ 8504.4 0.385\\ 8507.7 0.274\\ 8510.9 0.262\\ 8514.8 0.274\\ 8518.1 0.262\\
8522.7 0.268\\ 8527.2 0.262\\ 8531.2 0.336\\ 8533.8 0.410\\ 8536.4 0.311\\ 8539.6 0.360\\ 8542.9 0.515\\ 8545.5 0.336\\
8548.8 0.274\\ 8552.7 0.262\\ 8558.6 0.262\\ 8565.1 0.268\\ 8569.7 0.293\\ 8574.9 0.262\\ 8580.1 0.286\\ 8583.4 0.360\\
8586.6 0.311\\ 8589.9 0.385\\ 8593.2 0.391\\ 8596.4 0.311\\ 8599.7 0.360\\ 8603.6 0.459\\ 8607.5 0.558\\ 8612.7 0.681\\
8618.0 0.743\\ 8622.5 0.774\\ 8627.1 0.768\\ 8631.0 0.706\\ 8634.9 0.583\\ 8638.2 0.435\\ 8640.8 0.348\\ 8643.4 0.558\\
8646.7 0.706\\ 8650.6 0.768\\ 8654.5 0.836\\ 8657.8 0.817\\ 8661.0 0.793\\ 8664.3 0.719\\ 8667.6 0.607\\ 8671.5 0.558\\
8675.4 0.509\\ 8679.3 0.447\\ 8683.2 0.410\\ 8687.1 0.373\\ 8691.0 0.360\\ 8694.9 0.336\\ 8698.9 0.348\\ 8702.1 0.311\\
8705.4 0.286\\ 8710.6 0.280\\ 8715.8 0.274\\ 8721.7 0.286\\ 8726.9 0.280\\ 8731.5 0.293\\ 8736.1 0.286\\ 8741.3 0.286\\
8745.9 0.286\\ 8749.8 0.299\\ 8753.0 0.583\\ 8756.3 0.768\\ 8758.9 0.953\\ 8761.5 1.4\\ 8765.4 0.830\\ 8768.0 1.3\\
8772.0 1.3\\ 8774.6 0.891\\ 8777.2 0.336\\ 8779.8 0.286\\ 8782.4 0.459\\
8786.3 0.644\\ 8789.5 0.311\\ 8793.5 0.286\\ 8798.7 0.286\\ 8803.9 0.348\\ 8807.8 0.286\\ 8813.0 0.280\\ 8816.3 0.311\\
8819.6 0.830\\ 8822.2 1.3\\ 8824.8 1.3\\ 8826.7 0.589\\ 8829.3 1.002\\ 8832.6 0.533\\ 8836.5 0.311\\ 8840.4 0.336\\
8844.4 0.577\\ 8847.6 0.336\\ 8850.9 0.311\\ 8854.8 0.385\\ 8858.7 0.583\\ 8862.6 0.780\\ 8865.9 0.385\\ 8869.8 0.323\\
8873.7 0.385\\ 8877.0 0.706\\ 8880.2 1.3\\ 8883.5 0.706\\ 8886.8 0.323\\ 8890.0 0.348\\ 8894.0 0.583\\ 8897.9 0.922\\
8901.1 0.459\\ 8904.4 0.323\\ 8908.3 0.348\\ 8911.6 0.706\\ 8914.8 1.3\\ 8918.1 0.669\\ 8921.4 0.336\\ 8925.3 0.323\\
8930.5 0.336\\ 8934.4 0.459\\ 8938.3 0.830\\ 8941.6 0.509\\ 8944.9 0.360\\ 8948.8 0.521\\ 8952.7 1.3\\ 8955.9 0.583\\
8959.2 0.348\\ 8963.1 0.360\\ 8967.0 0.323\\ 8971.0 0.373\\ 8974.9 0.336\\ 8978.8 0.385\\ 8982.7 0.799\\ 8986.0 0.435\\
8989.2 0.348\\ 8993.1 0.484\\ 8996.4 1.3\\ 8999.7 0.706\\ 9002.9 0.348\\ 9006.8 0.336\\ 9011.4 0.336\\ 9015.3 0.330\\
9019.2 0.336\\ 9023.2 0.323\\ 9027.1 0.385\\ 9031.0 0.521\\ 9033.6 0.570\\ 9036.2 0.385\\ 9038.8 0.336\\ 9041.4 0.533\\
9044.1 0.719\\ 9048.0 0.385\\ 9051.9 0.330\\ 9055.8 0.323\\ 9059.7 0.348\\ 9063.6 0.360\\ 9067.5 0.336\\ 9071.5 0.311\\
9075.4 0.323\\ 9079.3 0.323\\ 9083.2 0.360\\ 9087.1 0.472\\ 9091.0 0.336\\ 9096.3 0.323\\ 9101.5 0.317\\ 9106.7 0.311\\
9111.9 0.311\\ 9117.1 0.317\\ 9122.4 0.323\\ 9127.6 0.317\\ 9132.8 0.323\\ 9138.0 0.321\\ 9143.2 0.385\\ 9146.5 0.447\\
9149.8 0.348\\ 9152.4 0.398\\ 9155.6 0.484\\ 9158.9 0.373\\ 9162.8 0.336\\ 9166.7 0.330\\ 9172.0 0.330\\ 9177.2 0.326\\
9182.4 0.336\\ 9187.6 0.323\\ 9192.8 0.330\\ 9198.1 0.333\\ 9203.3 0.336\\ 9208.5 0.338\\ 9213.7 0.330\\ 9217.6 0.459\\
9221.6 0.435\\ 9225.5 0.336\\ 9229.4 0.330\\ 9233.3 0.336\\ 9237.2 0.342\\ 9241.1 0.379\\ 9245.1 0.391\\ 9249.0 0.360\\
9252.9 0.348\\ 9256.8 0.459\\ 9259.4 0.564\\ 9262.0 0.484\\ 9265.3 0.348\\ 9268.5 0.338\\ 9272.5 0.348\\ 9276.4 0.373\\
9279.6 0.447\\ 9282.9 0.385\\ 9286.2 0.472\\ 9289.4 0.435\\ 9292.7 0.410\\ 9296.0 0.404\\
}\skydata

\begin{document}
\begin{tikzpicture}
\useasboundingbox (0,0) rectangle (15in,4.5in);
\begin{axis}[
  at={(1.875in,0.495in)}, anchor=south west,
  scale only axis, width=11.625in, height=3.465in,
  xmin=4750, xmax=9300, ymin=-0.836, ymax=1.052,
  axis line style={line width=1pt},
  tick align=outside, tick pos=left,
  major tick length=5.24pt,
  every tick/.style={black, line width=1pt},
  xtick={5000,6000,7000,8000,9000},
  xticklabels={5000,6000,7000,8000,9000},
  ytick={-0.75,-0.5,-0.25,0,0.25,0.5,0.75,1},
  yticklabels={−0.75,−0.50,−0.25,0.00,0.25,0.50,0.75,1.00},
  xticklabel style={font=\fontsize{9.86}{11}\selectfont, anchor=base, yshift=-12.3pt},
  yticklabel style={font=\fontsize{12.9}{15}\selectfont, anchor=east, inner sep=0pt, xshift=-11.56pt},
  title={Spectrum of object 29438 in candels-cdfs-03},
  title style={font=\fontsize{18}{21}\selectfont, at={(axis description cs:0.5,1)}, anchor=base, yshift=1.6pt},
  xlabel={Wavelength},
  xlabel style={font=\fontsize{12.25}{14}\selectfont, at={(axis description cs:0.5,0)}, anchor=base, yshift=-31.8pt},
  ylabel={10\textsuperscript{−18} erg s\textsuperscript{−1}\,cm\textsuperscript{−2}\,Å\textsuperscript{−1}},
  ylabel style={font=\fontsize{16.4}{19}\selectfont, at={(axis description cs:-0.083,0.5)}, anchor=center},
  line join=round,
]
\addplot[mplgreen, line width=0.5pt] table[x=x, y=y] {\skydata};
\addplot[blue, line width=2pt] coordinates {(4700,0) (9400,0)};
\addplot[black, line width=1.5pt, line join=round] table[x=x, y=y] {\fluxdata};
\end{axis}
\end{tikzpicture}
\end{document}
